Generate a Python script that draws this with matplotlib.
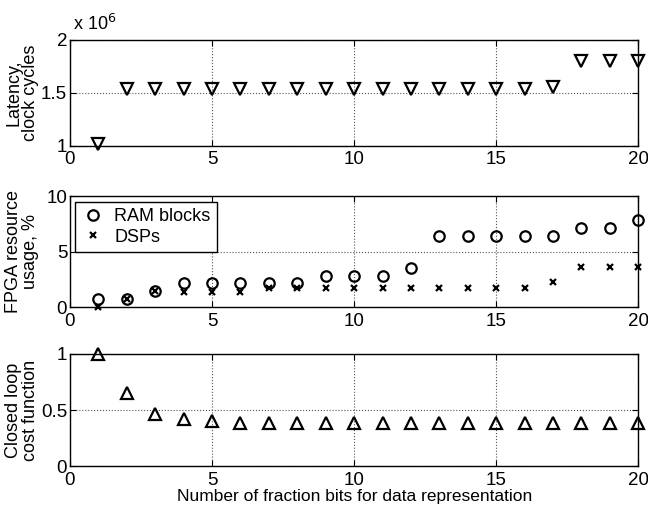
import numpy as np
import matplotlib
matplotlib.use('Agg')
import matplotlib.pyplot as plt
from matplotlib.ticker import FuncFormatter

#%% Data

# Number of fraction bits
bits = list(range(1, 21))

# Latency in clock cycles
latency = [1.015e6] + [1.538e6] * 15 + [1.558e6] + [1.805e6] * 3

# FPGA resource usage, %
ram_blocks = [0.72, 0.72, 1.47, 2.17, 2.17, 2.17, 2.17, 2.17, 2.83, 2.83,
              2.83, 3.55, 6.42, 6.42, 6.42, 6.42, 6.42, 7.14, 7.14, 7.83]
dsps = [0.05, 0.72, 1.45, 1.4, 1.4, 1.4, 1.76, 1.76, 1.76, 1.76,
        1.76, 1.76, 1.76, 1.76, 1.76, 1.76, 2.25, 3.6, 3.6, 3.6]

# Closed loop cost function
cost = [1.0, 0.65, 0.46, 0.42, 0.40, 0.385, 0.38, 0.38, 0.38, 0.38,
        0.38, 0.38, 0.38, 0.38, 0.38, 0.38, 0.38, 0.38, 0.38, 0.38]

#%% Plot

plt.rcParams['font.family'] = ['Liberation Sans', 'DejaVu Sans']
plt.rcParams['font.size'] = 12

fig = plt.figure(figsize=(6.48, 5.19), dpi=100)

left = 0.108
width = 0.877
ax1 = fig.add_axes([left, 0.719, width, 0.204])
ax2 = fig.add_axes([left, 0.408, width, 0.214])
ax3 = fig.add_axes([left, 0.102, width, 0.216])

mk = dict(linestyle='none', color='black', markerfacecolor='none',
          markeredgewidth=1.6, clip_on=False, zorder=5)

ax1.plot(bits, latency, marker='v', markersize=8, **mk)
ax2.plot(bits, ram_blocks, marker='o', markersize=7.5, label='RAM blocks', **mk)
ax2.plot(bits, dsps, marker='x', markersize=4.5, label='DSPs', **mk)
ax3.plot(bits, cost, marker='^', markersize=8, **mk)

ax1.set_ylim(1e6, 2e6)
ax1.set_yticks([1e6, 1.5e6, 2e6])
ax1.yaxis.set_major_formatter(FuncFormatter(lambda v, p: '%g' % (v / 1e6)))
ax1.text(0.005, 1.06, r'x 10$^6$', transform=ax1.transAxes, ha='left',
         va='bottom', fontsize=13)

ax2.set_ylim(0, 10)
ax2.set_yticks([0, 5, 10])

ax3.set_ylim(0, 1)
ax3.set_yticks([0, 0.5, 1])
ax3.yaxis.set_major_formatter(FuncFormatter(lambda v, p: '%g' % v))

for ax in (ax1, ax2, ax3):
    ax.set_xlim(0, 20)
    ax.set_xticks([0, 5, 10, 15, 20])
    ax.grid(True, linestyle=':', color='#555555', linewidth=0.8)
    ax.tick_params(direction='in', length=4, width=0.8, top=True, right=True,
                   labelsize=13.5)
    ax.tick_params(axis='x', pad=4)
    ax.tick_params(axis='y', pad=2)
    for s in ax.spines.values():
        s.set_linewidth(1.0)

ax1.set_ylabel('Latency,\nclock cycles', linespacing=1.0, fontsize=13)
ax2.set_ylabel('FPGA resource\nusage, %', linespacing=1.0, fontsize=13)
ax3.set_ylabel('Closed loop\ncost function', linespacing=1.0, fontsize=13)
for ax in (ax1, ax2, ax3):
    # right edge of the two-line label sits just left of the tick labels
    ax.yaxis.set_label_coords(-0.054, 0.5)
ax3.set_xlabel('Number of fraction bits for data representation', labelpad=0,
               fontsize=12.5)

leg = ax2.legend(loc='upper left', fancybox=False, edgecolor='black',
                 framealpha=1, borderaxespad=0.3, handletextpad=0.6,
                 handlelength=1.2, labelspacing=0.2, borderpad=0.35, fontsize=13)
leg.get_frame().set_linewidth(1.0)

plt.savefig('out.png', dpi=100)
